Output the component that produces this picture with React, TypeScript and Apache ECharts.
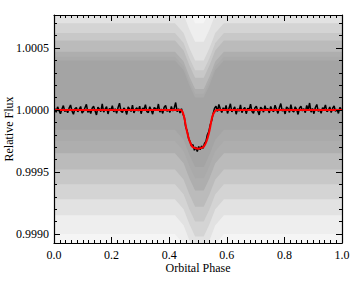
import React, { useEffect, useRef } from "react";
import * as echarts from "echarts";

// ---- data ----
const xTickValues = [0, 0.2, 0.4, 0.6, 0.8, 1.0];

// transit model (red line)
const modelPhase = [0, 0.44, 0.45, 0.46, 0.47, 0.48, 0.49, 0.5, 0.51, 0.52, 0.53, 0.54, 0.55, 0.56, 0.565, 1.0];
const modelFlux = [1.0, 1.0, 0.99996, 0.999845, 0.999755, 0.999705, 0.999692, 0.999688, 0.999692, 0.999705, 0.99975, 0.999835, 0.99995, 0.999995, 1.0, 1.0];

// binned light curve (black line), deviation from 1 in ppm, bins of 0.005 in phase starting at 0.0025
const binPhaseStart = 0.0025;
const binPhaseWidth = 0.005;
const binnedFluxPpm = [
  12, -18, 25, -5, -30, 8, 35, -12, 4, -22, 15, 40, -8, -35, 10, 20, -15, 5, 28, -25,
  -10, 18, 45, -20, 2, -28, 14, 30, -6, -40, 22, 8, -14, 50, -18, 6, 26, -32, 12, -4,
  34, -16, 10, -26, 20, 55, -10, -20, 16, 2, -36, 24, 8, -12, 38, -24, 4, 18, -8, 30,
  -30, 14, 6, 42, -14, -22, 26, 0, -34, 18, 12, -6, 48, -18, 8, -28, 22, 36, -10, 4,
  -20, 28, -8, 16, 60, -14, 10, -24,
  10, -30, -60, -140, -170, -230, -255, -290, -280, -325, -300, -335,
  -295, -320, -290, -310, -270, -255, -200, -175, -120, -85, -30, 15,
  30, -12, 44, 8, -20, 18, -6, 36, -28, 12, 50, -16, 4, 24, -34, 10, -10, 40, -22, 6,
  20, -30, 14, 2, 46, -12, -26, 16, 30, -8, -40, 22, 10, -18, 34, -4, 12, -24, 28, 0,
  -14, 38, 6, -28, 18, 52, -10, 8, -32, 24, 14, -20, 42, -6, -16, 26, 4, -36, 16, 30,
  -8, 10, -22, 36, 2, 56, -18, 12, -30, 20, 44, -12, 6, -26, 18, 8, 40, -14, -4, 24,
  -20, 14, 32, -10, 6, -28, 20, 10,
];

// unbinned point cloud: density zones (outermost to core), envelopes at knot phases
const cloudKnotPhase = [0, 0.42, 0.45, 0.47, 0.49, 0.52, 0.54, 0.56, 0.59, 1.0];
const level0Upper = [1.0012, 1.0012, 1.0012, 1.0012, 1.0012, 1.0012, 1.0012, 1.0012, 1.0012, 1.0012];
const level0Lower = [0.9985, 0.9985, 0.9985, 0.9985, 0.9985, 0.9985, 0.9985, 0.9985, 0.9985, 0.9985];
const level1Upper = [1.001, 1.001, 1.00092, 1.0008, 1.0007, 1.0007, 1.0008, 1.00092, 1.001, 1.001];
const level1Lower = [0.999, 0.999, 0.99892, 0.9988, 0.9987, 0.9987, 0.9988, 0.99892, 0.999, 0.999];
const level2Upper = [1.00085, 1.00085, 1.00077, 1.00065, 1.00055, 1.00055, 1.00065, 1.00077, 1.00085, 1.00085];
const level2Lower = [0.99915, 0.99915, 0.99907, 0.99895, 0.99885, 0.99885, 0.99895, 0.99907, 0.99915, 0.99915];
const level3Upper = [1.0007, 1.0007, 1.00062, 1.0005, 1.0004, 1.0004, 1.0005, 1.00062, 1.0007, 1.0007];
const level3Lower = [0.99928, 0.99928, 0.9992, 0.99908, 0.99898, 0.99898, 0.99908, 0.9992, 0.99928, 0.99928];
const level4Upper = [1.00062, 1.00062, 1.00054, 1.00042, 1.00032, 1.00032, 1.00042, 1.00054, 1.00062, 1.00062];
const level4Lower = [0.9994, 0.9994, 0.99932, 0.9992, 0.9991, 0.9991, 0.9992, 0.99932, 0.9994, 0.9994];
const level5Upper = [1.00056, 1.00056, 1.00048, 1.00036, 1.00026, 1.00026, 1.00036, 1.00048, 1.00056, 1.00056];
const level5Lower = [0.99952, 0.99952, 0.99944, 0.99932, 0.99922, 0.99922, 0.99932, 0.99944, 0.99952, 0.99952];
const level6Upper = [1.00047, 1.00047, 1.00039, 1.00027, 1.00017, 1.00017, 1.00027, 1.00039, 1.00047, 1.00047];
const level6Lower = [0.99965, 0.99965, 0.99957, 0.99945, 0.99935, 0.99935, 0.99945, 0.99957, 0.99965, 0.99965];
const level7Upper = [1.00043, 1.00043, 1.00035, 1.00023, 1.00013, 1.00013, 1.00023, 1.00035, 1.00043, 1.00043];
const level7Lower = [0.99975, 0.99975, 0.99967, 0.99955, 0.99945, 0.99945, 0.99955, 0.99967, 0.99975, 0.99975];
const level8Upper = [1.0004, 1.0004, 1.00032, 1.0002, 1.0001, 1.0001, 1.0002, 1.00032, 1.0004, 1.0004];
const level8Lower = [0.99984, 0.99984, 0.99976, 0.99964, 0.99954, 0.99954, 0.99964, 0.99976, 0.99984, 0.99984];

const yMin = 0.998927;
const yMax = 1.000766;

// ---- styles ----
const levelColors = ["#f5f5f5", "#eeeeee", "#e2e2e2", "#d4d4d4", "#c8c8c8", "#bbbbbb", "#aeaeae", "#aaaaaa", "#a4a4a4"];
const FONT = "Liberation Serif, Times New Roman, Times, serif";

export default function App() {
  const ref = useRef<HTMLDivElement>(null);

  useEffect(() => {
    if (!ref.current) return;
    const chart = echarts.init(ref.current, undefined, { renderer: "svg" });

    const uppers = [level0Upper, level1Upper, level2Upper, level3Upper, level4Upper, level5Upper, level6Upper, level7Upper, level8Upper];
    const lowers = [level0Lower, level1Lower, level2Lower, level3Lower, level4Lower, level5Lower, level6Lower, level7Lower, level8Lower];

    const binned = binnedFluxPpm.map((v, i) => [binPhaseStart + i * binPhaseWidth, 1 + v / 1e6]);
    const model = modelPhase.map((p, i) => [p, modelFlux[i]]);

    const axisLine = { show: true, onZero: false, lineStyle: { color: "#000", width: 1.2 } };
    const xCommon = {
      type: "value" as const,
      min: xTickValues[0],
      max: xTickValues[xTickValues.length - 1],
      interval: 0.2,
      z: 10,
      axisLine,
      axisTick: { show: true, inside: true, length: 6, lineStyle: { color: "#000", width: 1 } },
      minorTick: { show: true, splitNumber: 10, length: 3, lineStyle: { color: "#000", width: 1 } },
      splitLine: { show: false },
      minorSplitLine: { show: false },
    };
    const yCommon = {
      type: "value" as const,
      min: yMin,
      max: yMax,
      minInterval: 0.0005,
      maxInterval: 0.0005,
      splitNumber: 4,
      z: 10,
      axisLine,
      axisTick: { show: true, inside: true, length: 6, lineStyle: { color: "#000", width: 1 } },
      minorTick: { show: true, splitNumber: 5, length: 3, lineStyle: { color: "#000", width: 1 } },
      splitLine: { show: false },
      minorSplitLine: { show: false },
    };

    chart.setOption({
      animation: false,
      backgroundColor: "#fff",
      textStyle: { fontFamily: FONT },
      grid: { left: 54, right: 18, top: 15, bottom: 45, containLabel: false, outerBoundsMode: "none" },
      xAxis: [
        {
          ...xCommon,
          position: "bottom",
          name: "Orbital Phase",
          nameLocation: "middle",
          nameGap: 19,
          nameMoveOverlap: false,
          nameTextStyle: { fontFamily: FONT, fontSize: 12, lineHeight: 12, color: "#000" },
          axisLabel: {
            fontFamily: FONT,
            fontSize: 12,
            lineHeight: 12,
            color: "#000",
            margin: 6,
            formatter: (v: number) => v.toFixed(1),
          },
        },
        { ...xCommon, position: "top", axisLabel: { show: false } },
      ],
      yAxis: [
        {
          ...yCommon,
          position: "left",
          name: "Relative Flux",
          nameLocation: "middle",
          nameGap: 39,
          nameMoveOverlap: false,
          nameTextStyle: { fontFamily: FONT, fontSize: 12, color: "#000" },
          axisLabel: {
            fontFamily: FONT,
            fontSize: 12,
            color: "#000",
            margin: 5,
            showMinLabel: false,
            showMaxLabel: false,
            formatter: (v: number) => v.toFixed(4),
          },
        },
        { ...yCommon, position: "right", axisLabel: { show: false } },
      ],
      series: [
        {
          type: "custom",
          name: "cloud",
          xAxisIndex: 0,
          yAxisIndex: 0,
          clip: true,
          silent: true,
          z: 1,
          data: levelColors.map(() => [0.5, 1.0]),
          encode: { x: 0, y: 1 },
          renderItem: (params: any, api: any) => {
            const i = params.dataIndex;
            const up = uppers[i];
            const lo = lowers[i];
            const pts: number[][] = [];
            for (let k = 0; k < cloudKnotPhase.length; k++) pts.push(api.coord([cloudKnotPhase[k], up[k]]));
            for (let k = cloudKnotPhase.length - 1; k >= 0; k--) pts.push(api.coord([cloudKnotPhase[k], lo[k]]));
            return {
              type: "polygon",
              shape: { points: pts },
              style: { fill: levelColors[i], stroke: null },
            };
          },
        },
        {
          type: "line",
          name: "binned",
          data: binned,
          showSymbol: false,
          symbol: "none",
          z: 3,
          lineStyle: { color: "#000", width: 1.5 },
        },
        {
          type: "line",
          name: "model",
          data: model,
          showSymbol: false,
          symbol: "none",
          smooth: 0.3,
          z: 4,
          lineStyle: { color: "#ff0000", width: 2 },
        },
      ],
    });

    return () => chart.dispose();
  }, []);

  return (
    <div
      ref={ref}
      style={{ position: "fixed", left: 0, top: 0, width: 360, height: 288, background: "#fff" }}
    />
  );
}
